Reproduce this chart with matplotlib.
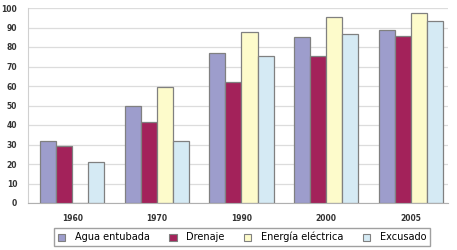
import numpy as np
import matplotlib.pyplot as plt
from matplotlib.patches import Patch

years = ['1960', '1970', '1990', '2000', '2005']
agua = [32, 49.5, 77, 85, 88.5]
drenaje = [29, 41.5, 62, 75.5, 85.5]
energia = [0, 59.5, 87.5, 95.5, 97.5]
excusado = [21, 32, 75.5, 86.5, 93.5]

series = [agua, drenaje, energia, excusado]
names = ['Agua entubada', 'Drenaje', 'Energía eléctrica', 'Excusado']
colors = ['#9d9dcc', '#a3225a', '#fdfbcb', '#d5eaf4']

fig = plt.figure(figsize=(4.57, 2.5), dpi=100)
ax = fig.add_axes([0.062, 0.188, 0.918, 0.78])

x = np.arange(len(years))
w = 0.19
for k, (vals, c) in enumerate(zip(series, colors)):
    ax.bar(x + (k - 1.5) * w, vals, w, color=c, edgecolor='#808080', linewidth=0.9, zorder=3)

ax.set_ylim(0, 100)
ax.set_xlim(-0.52, 4.44)
ax.set_yticks(range(0, 101, 10))
ax.set_xticks(x)
ax.set_xticklabels(years)
ax.yaxis.grid(True, color='#dcdcdc', linewidth=0.9, zorder=0)
ax.tick_params(axis='both', length=0, labelsize=5.5, colors='#333333')
for lab in ax.get_xticklabels() + ax.get_yticklabels():
    lab.set_fontweight('bold')
ax.tick_params(axis='x', pad=8)
ax.tick_params(axis='y', pad=8)
for s in ['top', 'right']:
    ax.spines[s].set_visible(False)
ax.spines['left'].set_color('#d0d0d0')
ax.spines['bottom'].set_color('#b0b0b0')

handles = [Patch(facecolor=c, edgecolor='#808080', linewidth=0.8) for c in colors]
leg = fig.legend(handles, names, loc='lower center', bbox_to_anchor=(0.53, -0.005), ncol=4,
                 fontsize=7, frameon=True, fancybox=False, edgecolor='#888888',
                 handlelength=0.75, handleheight=0.75, columnspacing=2.0, handletextpad=1.0,
                 borderpad=0.4)
leg.get_frame().set_linewidth(1.0)

fig.savefig('out.png', dpi=100)
